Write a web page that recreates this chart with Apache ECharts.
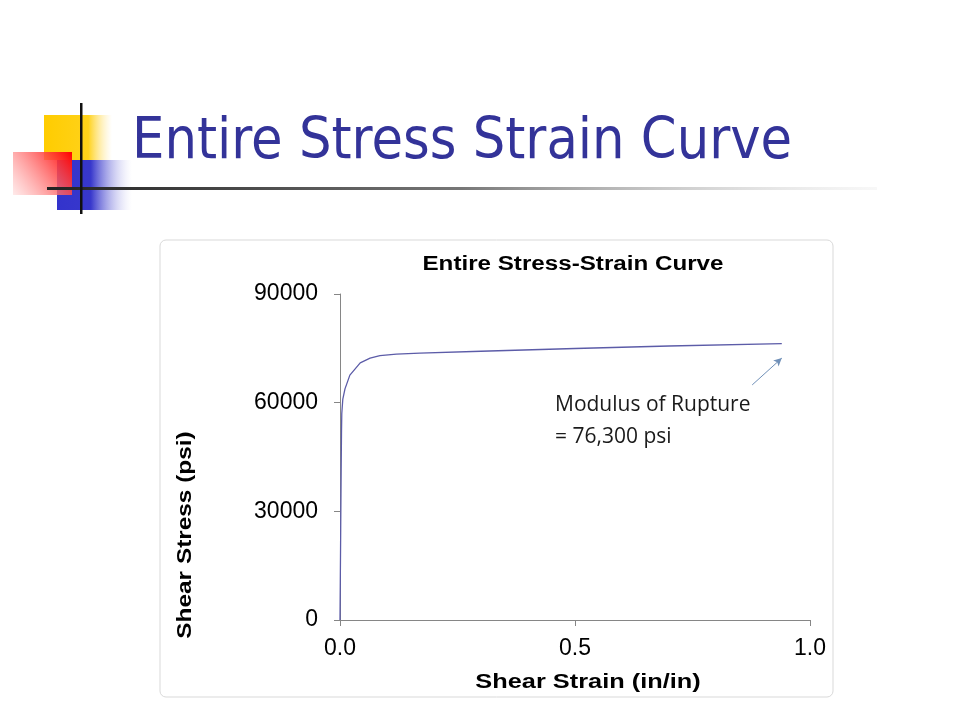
<!DOCTYPE html>
<html>
<head>
<meta charset="utf-8">
<script src="https://cdn.jsdelivr.net/npm/echarts@6/dist/echarts.min.js"></script>
<style>html,body{margin:0;padding:0;background:#fff;}#c{width:960px;height:720px;}</style>
</head>
<body>
<div id="c"></div>
<script>
const strain = [0, 0.0015, 0.0025, 0.0032, 0.0038, 0.006, 0.0106, 0.021, 0.043, 0.064, 0.085, 0.12, 0.17, 0.3, 0.5, 0.7, 0.94];
const stress = [0, 25000, 42000, 52000, 57000, 61000, 63800, 67600, 71000, 72300, 73000, 73400, 73650, 74200, 74950, 75650, 76300];
const yTicks = [0, 30000, 60000, 90000];
const xTicks = [0.0, 0.5, 1.0];
const arrowFrom = [0.877, 64900];
const arrowTo = [0.94, 72300];

const chart = echarts.init(document.getElementById('c'));
const fontA = '"Liberation Sans", Arial, sans-serif';
const boldText = { fontFamily: fontA, fontSize: 19.5, fontWeight: 'bold', fill: '#000',
  textAlign: 'center', textVerticalAlign: 'middle' };
chart.setOption({
  animation: false,
  backgroundColor: '#ffffff',
  grid: { left: 340, right: 150, top: 294, bottom: 100 },
  xAxis: {
    type: 'value', min: 0, max: 1, interval: 0.5,
    axisLine: { show: true, lineStyle: { color: '#868686', width: 1 } },
    axisTick: { show: true, length: 6, lineStyle: { color: '#868686' } },
    axisLabel: { fontFamily: fontA, fontSize: 23, color: '#000', margin: 17,
      formatter: v => v.toFixed(1) },
    splitLine: { show: false }
  },
  yAxis: {
    type: 'value', min: 0, max: 90000, interval: 30000,
    axisLine: { show: true, lineStyle: { color: '#868686', width: 1 } },
    axisTick: { show: true, length: 6, lineStyle: { color: '#868686' } },
    axisLabel: { fontFamily: fontA, fontSize: 23, color: '#000', margin: 22,
      formatter: v => String(v) },
    splitLine: { show: false }
  },
  graphic: [
    { type: 'rect', shape: { x: 160, y: 240, width: 673, height: 457, r: 6 },
      style: { fill: 'none', stroke: '#d9d9d9', lineWidth: 1 }, z: -1 },
    { type: 'text', x: 573, y: 265, scaleX: 1.24,
      style: Object.assign({}, boldText, { text: 'Entire Stress-Strain Curve' }) },
    { type: 'text', x: 588, y: 683, scaleX: 1.3,
      style: Object.assign({}, boldText, { text: 'Shear Strain (in/in)' }) },
    { type: 'text', x: 186, y: 535, rotation: Math.PI / 2, scaleX: 1.25,
      style: Object.assign({}, boldText, { text: 'Shear Stress (psi)' }) },
    { type: 'text', x: 555, y: 389,
      style: { text: 'Modulus of Rupture\n= 76,300 psi', fontFamily: '"Open Sans", "Noto Sans", sans-serif',
        fontSize: 21, lineHeight: 32, fill: '#1a1a1a' } },
    // slide decoration
    { type: 'rect', shape: { x: 44, y: 115, width: 68, height: 45 },
      style: { fill: new echarts.graphic.LinearGradient(0, 0, 1, 0, [
        { offset: 0, color: '#ffcc00' }, { offset: 0.65, color: '#ffd21a' }, { offset: 1, color: 'rgba(255,230,150,0)' }]) } },
    { type: 'rect', shape: { x: 57, y: 160, width: 75, height: 50 },
      style: { fill: new echarts.graphic.LinearGradient(0, 0, 1, 0, [
        { offset: 0, color: '#3333cc' }, { offset: 0.45, color: '#3838cc' }, { offset: 1, color: 'rgba(200,200,240,0)' }]) } },
    { type: 'rect', shape: { x: 13, y: 152, width: 59, height: 43 },
      style: { fill: new echarts.graphic.LinearGradient(1, 0, 0, 1, [
        { offset: 0, color: '#ff0000' }, { offset: 1, color: 'rgba(255,220,220,0.6)' }]) } },
    { type: 'rect', shape: { x: 47, y: 187, width: 830, height: 3 },
      style: { fill: new echarts.graphic.LinearGradient(0, 0, 1, 0, [
        { offset: 0, color: '#222222' }, { offset: 0.5, color: '#777777' }, { offset: 1, color: 'rgba(230,230,230,0.3)' }]) } },
    { type: 'rect', shape: { x: 80, y: 103, width: 2.5, height: 111 },
      style: { fill: '#111111' } },
    { type: 'text', x: 132, y: 143,
      style: { text: 'Entire Stress Strain Curve', fontFamily: '"DejaVu Sans Condensed", "DejaVu Sans", sans-serif',
        fontSize: 57, fill: '#333399', textVerticalAlign: 'middle' } }
  ],
  series: [{
    type: 'line',
    data: strain.map((x, i) => [x, stress[i]]),
    showSymbol: false, smooth: false,
    lineStyle: { color: '#5c5ca8', width: 1.3 },
    markLine: {
      silent: true, symbol: ['none', 'arrow'], symbolSize: [6, 8],
      lineStyle: { color: '#7090b8', width: 1, type: 'solid' },
      label: { show: false },
      data: [[{ coord: arrowFrom }, { coord: arrowTo }]]
    }
  }]
});
</script>
</body>
</html>
